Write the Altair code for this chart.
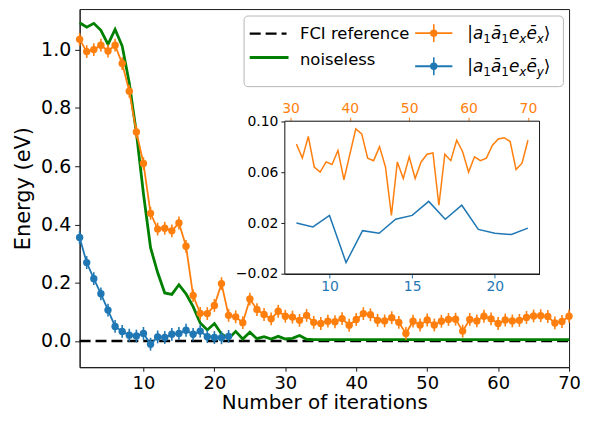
import altair as alt
import pandas as pd

# ---------------- data ----------------
iterations = list(range(1, 71))
noiseless = [1.092, 1.077, 1.090, 1.066, 1.018, 1.069, 1.012, 0.885, 0.715, 0.505,
             0.320, 0.235, 0.165, 0.160, 0.193, 0.162, 0.118, 0.062, 0.038, 0.060,
             0.024, 0.008, 0.033, 0.007, 0.030, 0.008, 0.015, 0.007, 0.016, 0.007,
             0.009, 0.019, 0.006, 0.005, 0.005, 0.005, 0.005, 0.005, 0.005, 0.005,
             0.005, 0.005, 0.005, 0.005, 0.005, 0.005, 0.005, 0.005, 0.005, 0.005,
             0.005, 0.005, 0.005, 0.005, 0.005, 0.005, 0.005, 0.005, 0.005, 0.005,
             0.005, 0.005, 0.005, 0.005, 0.005, 0.005, 0.005, 0.005, 0.005, 0.005]
xx_vals = [1.035, 0.993, 1.000, 1.015, 0.995, 1.015, 0.952, 0.857, 0.717, 0.609,
           0.438, 0.384, 0.387, 0.378, 0.405, 0.325, 0.156, 0.095, 0.094, 0.122,
           0.197, 0.088, 0.083, 0.063, 0.144, 0.108, 0.091, 0.076, 0.102, 0.085,
           0.082, 0.071, 0.088, 0.064, 0.060, 0.068, 0.066, 0.077, 0.054, 0.074,
           0.094, 0.090, 0.071, 0.069, 0.080, 0.064, 0.026, 0.068, 0.055, 0.072,
           0.055, 0.068, 0.074, 0.075, 0.034, 0.074, 0.069, 0.085, 0.076, 0.060,
           0.072, 0.069, 0.071, 0.081, 0.086, 0.087, 0.084, 0.062, 0.067, 0.085]
xy_iters = list(range(1, 23))
xy_vals = [0.355, 0.269, 0.214, 0.162, 0.106, 0.050, 0.033, 0.020, 0.017, 0.026,
           -0.011, 0.014, 0.012, 0.023, 0.026, 0.037, 0.023, 0.034, 0.015, 0.012,
           0.011, 0.016]
err_half = 0.022
inset_xx_start = 31
inset_xy_start = 8

x_ticks = [10, 20, 30, 40, 50, 60, 70]
y_ticks = [0.0, 0.2, 0.4, 0.6, 0.8, 1.0]
inset_y_ticks = [-0.02, 0.02, 0.06, 0.10]
inset_top_ticks = [30, 40, 50, 60, 70]
inset_bottom_ticks = [10, 15, 20]

# ---------------- style / layout ----------------
ORANGE = "#ff7f0e"
BLUE = "#1f77b4"
GREEN = "#008000"
INK = "#1a1a1a"
FONT = "DejaVu Sans"

PAD_L, PAD_R, PAD_B = 72, 12, 47
W, H = 492, 360
X_DOMAIN = [1, 70]
Y_DOMAIN = [-0.0898, 1.139]
DX = -1  # shift of plot-relative coordinates vs. reference measurement
IL, IR, IT, IB = 207.3 + DX, 463.3 + DX, 112.7, 266.3
INSET_Y_DOMAIN = [-0.02, 0.10]
INSET_XO_DOMAIN = [29.05, 71.95]
INSET_XB_DOMAIN = [7.3, 22.7]

df_green = pd.DataFrame({"it": iterations, "E": noiseless})
df_xx = pd.DataFrame({"it": iterations, "E": xx_vals})
df_xx["lo"] = df_xx["E"] - err_half
df_xx["hi"] = df_xx["E"] + err_half
df_xy = pd.DataFrame({"it": xy_iters, "E": xy_vals})
df_xy["lo"] = df_xy["E"] - err_half
df_xy["hi"] = df_xy["E"] + err_half
df_fci = pd.DataFrame({"it": [X_DOMAIN[0], X_DOMAIN[1]], "E": [0.0, 0.0]})
df_in_xx = df_xx[df_xx["it"] >= inset_xx_start]
df_in_xy = df_xy[df_xy["it"] >= inset_xy_start]
one = pd.DataFrame({"k": [0]})

xs = alt.Scale(domain=X_DOMAIN, nice=False, zero=False)
ys = alt.Scale(domain=Y_DOMAIN, nice=False, zero=False)
xaxis = alt.Axis(values=x_ticks, title="Number of iterations", orient="bottom",
                 labelFontSize=18, titleFontSize=20, tickSize=4, labelPadding=3,
                 titlePadding=1, labelFlush=False, labelOverlap=False)
yaxis = alt.Axis(values=y_ticks, format=".1f", title="Energy (eV)", orient="left",
                 labelFontSize=19, titleFontSize=21, tickSize=5, labelPadding=4,
                 titlePadding=7, labelFlush=False, labelOverlap=False)
X = alt.X("it:Q", scale=xs, axis=xaxis)
Y = alt.Y("E:Q", scale=ys, axis=yaxis)
Ylo = alt.Y("lo:Q", scale=ys, axis=yaxis)

fci = alt.Chart(df_fci).mark_line(color="black", strokeDash=[11, 5], strokeWidth=2.5).encode(x=X, y=Y)
green = alt.Chart(df_green).mark_line(color=GREEN, strokeWidth=2.8).encode(x=X, y=Y)
xx_line = alt.Chart(df_xx).mark_line(color=ORANGE, strokeWidth=1.8).encode(x=X, y=Y)
xx_err = alt.Chart(df_xx).mark_rule(color=ORANGE, strokeWidth=1.6).encode(x=X, y=Ylo, y2="hi:Q")
xx_pts = alt.Chart(df_xx).mark_circle(color=ORANGE, size=55, opacity=1).encode(x=X, y=Y)
xy_line = alt.Chart(df_xy).mark_line(color=BLUE, strokeWidth=1.8).encode(x=X, y=Y)
xy_err = alt.Chart(df_xy).mark_rule(color=BLUE, strokeWidth=1.6).encode(x=X, y=Ylo, y2="hi:Q")
xy_pts = alt.Chart(df_xy).mark_circle(color=BLUE, size=55, opacity=1).encode(x=X, y=Y)

# ---------------- legend ----------------
def hline(x1, x2, y, color, width, dash=None):
    kw = dict(color=color, strokeWidth=width)
    if dash:
        kw["strokeDash"] = dash
    return alt.Chart(one).mark_rule(**kw).encode(x=alt.value(x1 + DX), x2=alt.value(x2 + DX), y=alt.value(y))

def vline(x, y1, y2, color, width):
    return alt.Chart(one).mark_rule(color=color, strokeWidth=width).encode(
        x=alt.value(x + DX), y=alt.value(y1), y2=alt.value(y2))

def dot(x, y, color):
    return alt.Chart(one).mark_circle(color=color, size=55, opacity=1).encode(
        x=alt.value(x + DX), y=alt.value(y))

def text(t, x, y, size, style="normal"):
    return alt.Chart(one).mark_text(text=t, align="left", baseline="alphabetic", font=FONT,
                                    fontSize=size, fontStyle=style, color="black").encode(
        x=alt.value(x + DX), y=alt.value(y))

EM = {"|": 0.337, "a": 0.613, "\u0101": 0.613, "e": 0.615, "\u0113": 0.615,
      "1": 0.636, "x": 0.592, "y": 0.592, "\u27e9": 0.39}

def math_label(last, x0, base):
    pieces = [("|", False, False), ("a", False, True), ("1", True, False),
              ("\u0101", False, True), ("1", True, False), ("e", False, True),
              ("x", True, True), ("\u0113", False, True), (last, True, True),
              ("\u27e9", False, False)]
    out = []
    x = x0
    for t, sub, ital in pieces:
        fs = 12 if sub else 17
        y = base + 3.5 if sub else base
        out.append(text(t, x, y, fs, "italic" if ital else "normal"))
        x += EM[t] * fs
    return out

legend_box = alt.Chart(one).mark_rect(fill="white", stroke="#b5b5b5", strokeWidth=1,
                                      cornerRadius=4).encode(
    x=alt.value(166.3 + DX), x2=alt.value(487.3 + DX), y=alt.value(7), y2=alt.value(78))
legend = [legend_box,
          hline(172, 209, 24.7, "black", 2.5, [11, 5]),
          text("FCI reference", 222.5, 30.3, 16.5),
          hline(172, 211, 48.7, GREEN, 2.8),
          text("noiseless", 222.5, 56, 16.5),
          hline(338.3, 375.7, 24.2, ORANGE, 1.8),
          vline(357, 15.2, 33.2, ORANGE, 1.6),
          dot(357, 24.2, ORANGE),
          hline(338.3, 375.7, 57.5, BLUE, 1.8),
          vline(357, 48.5, 66.5, BLUE, 1.6),
          dot(357, 57.5, BLUE)]
legend += math_label("x", 390.7, 30.3)
legend += math_label("y", 390.7, 63.7)

inset_bg = alt.Chart(one).mark_rect(fill="white", stroke=INK, strokeWidth=1).encode(
    x=alt.value(IL), x2=alt.value(IR), y=alt.value(IT), y2=alt.value(IB))

main = alt.layer(fci, green, xx_line, xx_err, xx_pts, xy_line, xy_err, xy_pts,
                 *legend, inset_bg)

# ---------------- inset ----------------
iy_scale = alt.Scale(domain=INSET_Y_DOMAIN, range=[IB, IT], nice=False, zero=False)
inset_xx = alt.Chart(df_in_xx).mark_line(color=ORANGE, strokeWidth=1.5).encode(
    x=alt.X("it:Q",
            scale=alt.Scale(domain=INSET_XO_DOMAIN, range=[IL, IR], nice=False, zero=False),
            axis=alt.Axis(orient="top", offset=-IT, values=inset_top_ticks, title=None,
                          labelColor=ORANGE, tickColor=ORANGE, labelFontSize=14,
                          tickSize=4, labelPadding=2, labelFlush=False, labelOverlap=False)),
    y=alt.Y("E:Q", scale=iy_scale,
            axis=alt.Axis(orient="left", offset=-IL, values=inset_y_ticks, format=".2f",
                          title=None, labelFontSize=14, tickSize=4, labelPadding=3,
                          labelFlush=False, labelOverlap=False)))
inset_xy = alt.Chart(df_in_xy).mark_line(color=BLUE, strokeWidth=1.5).encode(
    x=alt.X("it:Q",
            scale=alt.Scale(domain=INSET_XB_DOMAIN, range=[IL, IR], nice=False, zero=False),
            axis=alt.Axis(orient="bottom", offset=-(H - IB), values=inset_bottom_ticks,
                          title=None, labelColor=BLUE, tickColor=BLUE, labelFontSize=14,
                          tickSize=4, labelPadding=2, labelFlush=False, labelOverlap=False)),
    y=alt.Y("E:Q", scale=iy_scale, axis=None))

chart = alt.layer(main, inset_xx, inset_xy).resolve_scale(
    x="independent", y="independent").properties(
    width=W, height=H,
    autosize=alt.AutoSizeParams(type="none"),
    padding={"left": PAD_L, "top": 0, "right": PAD_R, "bottom": PAD_B},
).configure_axis(
    grid=False, labelFont=FONT, titleFont=FONT, labelColor="black", titleColor="black",
    domainColor=INK, tickColor=INK, titleFontWeight="normal", domainWidth=1, tickWidth=1,
).configure_view(stroke=INK, strokeWidth=1)

chart.save("out.html", embed_options={"renderer": "svg", "actions": False})
